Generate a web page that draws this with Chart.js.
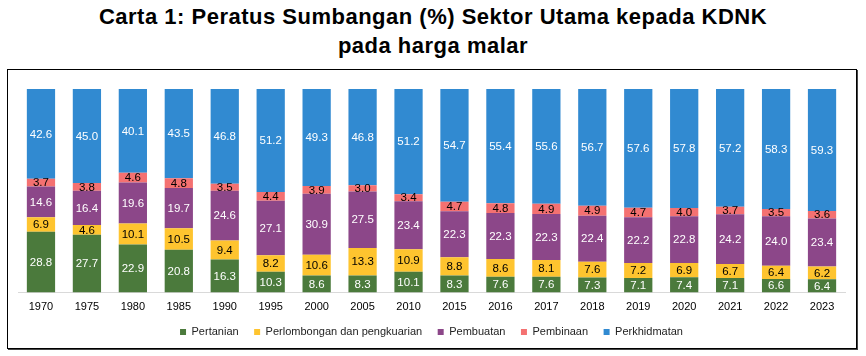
<!DOCTYPE html>
<html>
<head>
<meta charset="utf-8">
<script src="https://cdn.jsdelivr.net/npm/chart.js@4.4.1/dist/chart.umd.min.js"></script>
<style>
  html, body { margin: 0; padding: 0; background: #fff; }
  body { width: 866px; height: 356px; position: relative; overflow: hidden; font-family: "Liberation Sans", Arial, sans-serif; }
  .title { position: absolute; left: 0; width: 866px; text-align: center; font-weight: bold; font-size: 22px; letter-spacing: 0.5px; color: #000; line-height: 24px; }
  #t1 { top: 5px; }
  #t2 { top: 34px; }
  #frame { position: absolute; left: 7px; top: 69px; width: 850px; height: 280px; border: 1.5px solid #000; box-shadow: 1px 1px 0 #444; box-sizing: border-box; }
  #wrap { position: absolute; left: 0; top: 0; width: 847px; height: 280px; }
</style>
</head>
<body>
<div class="title" id="t1">Carta 1: Peratus Sumbangan (%) Sektor Utama kepada KDNK</div>
<div class="title" id="t2">pada harga malar</div>
<div id="frame"><div id="wrap"><canvas id="c"></canvas></div></div>
<script>
const years = ["1970","1975","1980","1985","1990","1995","2000","2005","2010","2015","2016","2017","2018","2019","2020","2021","2022","2023"];
const pertanian    = [28.8,27.7,22.9,20.8,16.3,10.3,8.6,8.3,10.1,8.3,7.6,7.6,7.3,7.1,7.4,7.1,6.6,6.4];
const perlombongan = [6.9,4.6,10.1,10.5,9.4,8.2,10.6,13.3,10.9,8.8,8.6,8.1,7.6,7.2,6.9,6.7,6.4,6.2];
const pembuatan    = [14.6,16.4,19.6,19.7,24.6,27.1,30.9,27.5,23.4,22.3,22.3,22.3,22.4,22.2,22.8,24.2,24.0,23.4];
const pembinaan    = [3.7,3.8,4.6,4.8,3.5,4.4,3.9,3.0,3.4,4.7,4.8,4.9,4.9,4.7,4.0,3.7,3.5,3.6];
const perkhidmatan = [42.6,45.0,40.1,43.5,46.8,51.2,49.3,46.8,51.2,54.7,55.4,55.6,56.7,57.6,57.8,57.2,58.3,59.3];

const seriesNames = ["Pertanian","Perlombongan dan pengkuarian","Pembuatan","Pembinaan","Perkhidmatan"];
const seriesRaw = [pertanian, perlombongan, pembuatan, pembinaan, perkhidmatan];
const colors = ["#4B7A3C","#FEC42F","#8C4789","#F47171","#318AD1"];
const labelColors = ["#fff","#000","#fff","#000","#fff"];

// 100% stacked: normalise each year's total
const totals = years.map((_, i) => seriesRaw.reduce((s, a) => s + a[i], 0));
const datasets = seriesRaw.map((arr, k) => ({
  label: seriesNames[k],
  data: arr.map((v, i) => v / totals[i] * 100),
  raw: arr,
  backgroundColor: colors[k],
  borderWidth: 0,
  categoryPercentage: 1.0,
  barPercentage: 0.615
}));

const valueLabels = {
  id: 'valueLabels',
  afterDatasetsDraw(chart) {
    const ctx = chart.ctx;
    ctx.save();
    ctx.font = '11.5px "Liberation Sans", Arial, sans-serif';
    ctx.textAlign = 'center';
    ctx.textBaseline = 'middle';
    chart.data.datasets.forEach((ds, k) => {
      const meta = chart.getDatasetMeta(k);
      meta.data.forEach((bar, i) => {
        const y = (bar.y + bar.base) / 2;
        ctx.fillStyle = labelColors[k];
        ctx.fillText(ds.raw[i].toFixed(1), bar.x, y + 0.5);
      });
    });
    ctx.restore();
  }
};

const legendHeight = {
  id: 'legendHeight',
  beforeInit(chart) {
    const orig = chart.legend.fit;
    chart.legend.fit = function () { orig.call(this); this.height = 39; };
  }
};

new Chart(document.getElementById('c'), {
  type: 'bar',
  data: { labels: years, datasets },
  plugins: [valueLabels, legendHeight],
  options: {
    responsive: true,
    maintainAspectRatio: false,
    animation: false,
    layout: { padding: { top: 19, left: 10, right: 10, bottom: 0 } },
    plugins: {
      legend: {
        position: 'bottom',
        labels: {
          boxWidth: 6, boxHeight: 6, padding: 15.5,
          color: '#222',
          font: { size: 11, family: '"Liberation Sans", Arial, sans-serif' }
        }
      },
      tooltip: { enabled: false }
    },
    scales: {
      x: {
        stacked: true,
        afterFit(scale) { scale.height = 18.5; },
        grid: { display: false, drawTicks: false },
        border: { color: '#d9d9d9', width: 1 },
        ticks: { color: '#000', font: { size: 11, family: '"Liberation Sans", Arial, sans-serif' }, padding: 8, maxRotation: 0, autoSkip: false }
      },
      y: { stacked: true, display: false, min: 0, max: 100 }
    }
  }
});
</script>
</body>
</html>
